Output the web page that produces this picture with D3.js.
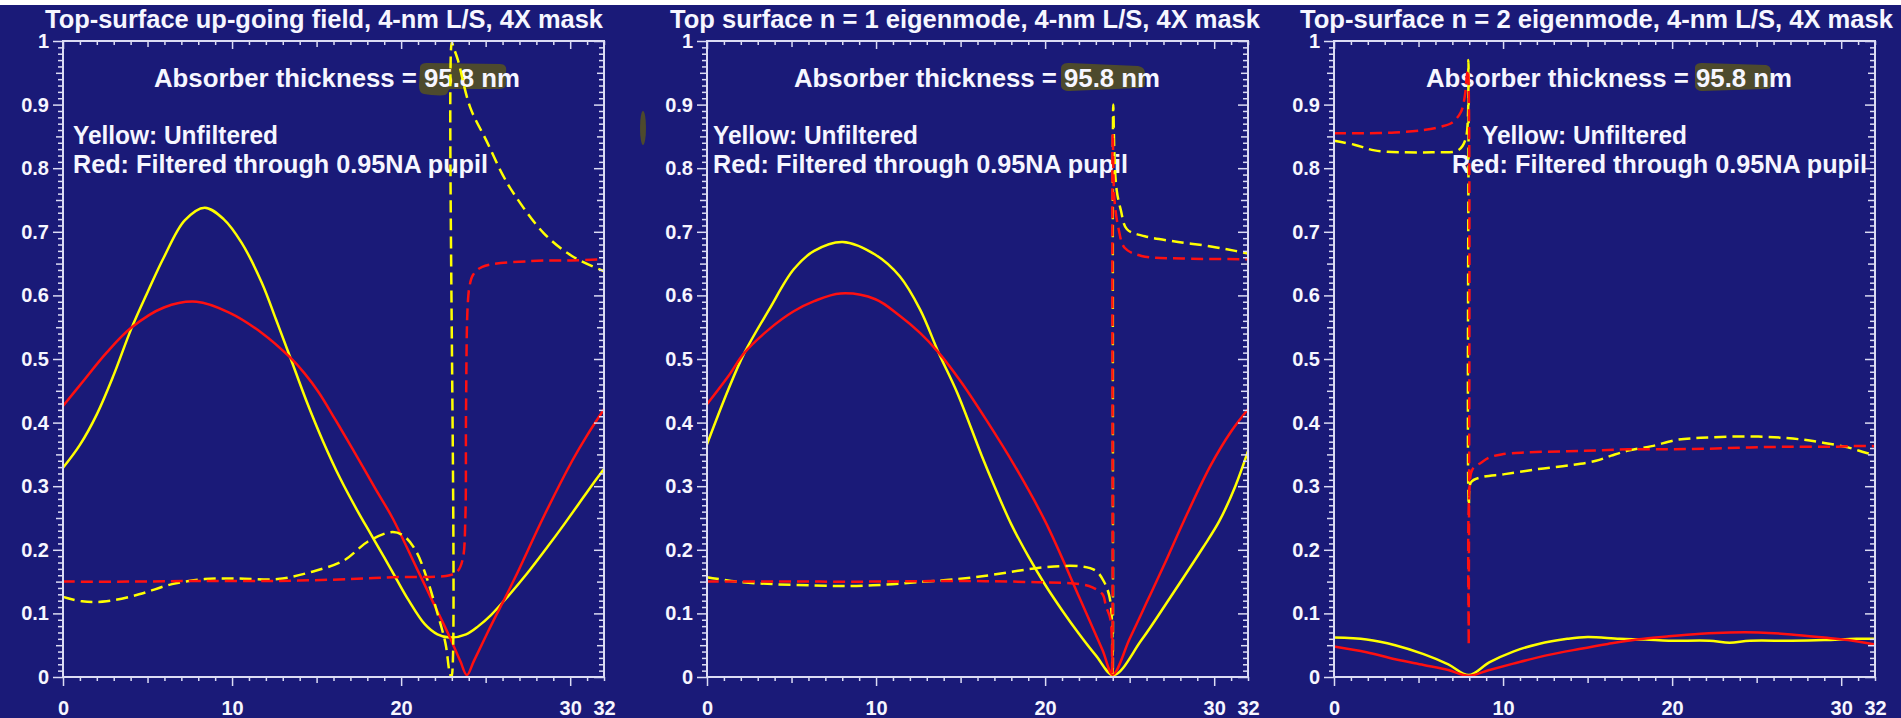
<!DOCTYPE html>
<html>
<head>
<meta charset="utf-8">
<script src="https://cdn.jsdelivr.net/npm/d3@7"></script>
<style>
  html, body { margin: 0; padding: 0; background: #ffffff; }
  svg { display: block; }
  text { font-family: "Liberation Sans", Arial, Helvetica, sans-serif; font-weight: bold; fill: #f6f6ff; }
  .tick text { font-size: 20px; }
</style>
</head>
<body>
<div id="chart"></div>
<script>

// texts
const titles = [
  "Top-surface up-going field, 4-nm L/S, 4X mask",
  "Top surface n = 1 eigenmode, 4-nm L/S, 4X mask",
  "Top-surface n = 2 eigenmode, 4-nm L/S, 4X mask"
];
const annotation = "Absorber thickness = 95.8 nm";
const legendYellow = "Yellow: Unfiltered";
const legendRed = "Red: Filtered through 0.95NA pupil";

// tick labels
const xTickLabels = [0, 10, 20, 30, 32];
const yTickLabels = [0, 0.1, 0.2, 0.3, 0.4, 0.5, 0.6, 0.7, 0.8, 0.9, 1];

// panel 1 : up-going field  ([x, value])
const p1YellowSolid = [[0,0.329],[1.0,0.365],[2.0,0.413],[3.0,0.475],[4.03,0.547],[5.0,0.605],[5.97,0.66],[7.2,0.718],
  [8.38,0.738],[9.5,0.72],[10.56,0.683],[11.76,0.62],[12.6,0.562],[13.45,0.502],[14.4,0.434],[15.39,0.37],[16.4,0.312],
  [17.4,0.262],[18.2,0.225],[19.0,0.188],[19.7,0.155],[20.46,0.12],[21.4,0.083],[22.15,0.067],[22.87,0.062],[23.84,0.067],
  [24.57,0.08],[25.3,0.097],[26.26,0.125],[27.46,0.163],[28.67,0.205],[29.64,0.24],[30.5,0.272],[31.3,0.302],[32,0.327]];
const p1RedSolid = [[0,0.426],[1.13,0.463],[2.58,0.51],[4.03,0.549],[5.97,0.581],[7.9,0.59],[9.83,0.573],[11.76,0.541],
  [13.45,0.502],[14.3,0.477],[15.14,0.447],[16.1,0.405],[17.1,0.36],[18.5,0.295],[19.49,0.25],[20.94,0.17],[21.9,0.117],
  [22.87,0.063],[23.5,0.025],[23.89,0.003],[24.3,0.025],[25.3,0.08],[26.7,0.154],[28.43,0.252],[30.12,0.34],[31.0,0.38],[32,0.421]];
const p1YellowDashed = [[0,0.126],[1.13,0.119],[2.58,0.119],[4.5,0.13],[6.45,0.146],[8.38,0.154],[10.3,0.155],[12.7,0.154],
  [14.66,0.165],[16.6,0.183],[18.04,0.213],[19.5,0.228],[20.2,0.221],[20.9,0.197],[21.5,0.157],[22.15,0.1],[22.63,0.052],
  [22.87,0.007],[22.98,0.0],[23.0,0.998],[23.1,0.99],[23.36,0.97],[24.08,0.896],[25.05,0.843],[26.0,0.79],[26.74,0.757],
  [28.43,0.698],[30.1,0.662],[32,0.638]];
const p1RedDashed = [[0,0.15],[4,0.15],[8,0.151],[12.7,0.151],[17,0.154],[19.5,0.157],[22.87,0.16],[23.36,0.167],
  [23.65,0.186],[23.8,0.25],[23.84,0.42],[23.93,0.58],[24.05,0.615],[24.25,0.632],[24.8,0.645],[27.7,0.654],[30,0.655],[32,0.657]];

// panel 2 : n = 1 eigenmode
const p2YellowSolid = [[0,0.366],[1.26,0.452],[2.22,0.51],[3.68,0.578],[5.13,0.641],[6.34,0.67],[8.03,0.684],[9.96,0.664],
  [11.4,0.63],[12.6,0.578],[13.7,0.51],[14.8,0.447],[16.25,0.348],[17.0,0.3],[18.0,0.24],[19.0,0.19],[20.0,0.145],
  [21.0,0.105],[22.0,0.068],[23.0,0.034],[24.05,0.003],[25.7,0.058],[27.4,0.125],[29.3,0.202],[30.3,0.245],[31.25,0.3],[32,0.355]];
const p2RedSolid = [[0,0.429],[1.26,0.473],[2.22,0.51],[3.68,0.547],[5.13,0.575],[6.34,0.591],[7.9,0.603],[9.96,0.594],
  [11.4,0.568],[12.6,0.541],[13.7,0.51],[15.0,0.465],[16.5,0.405],[18.2,0.332],[20.0,0.245],[22.06,0.123],[23.4,0.042],
  [24.0,0.004],[25.0,0.06],[26.0,0.117],[27.0,0.174],[28.2,0.245],[29.8,0.333],[31.0,0.386],[32,0.421]];
const p2YellowDashed = [[0,0.157],[1.74,0.15],[3.9,0.146],[6.34,0.144],[8.5,0.143],[10.45,0.145],[12.4,0.149],[14.8,0.154],
  [16.7,0.16],[18.4,0.167],[20.1,0.173],[22.06,0.174],[23.0,0.167],[23.5,0.149],[23.8,0.127],[23.95,0.09],[24.0,0.004],
  [24.03,0.9],[24.1,0.82],[24.23,0.766],[24.47,0.735],[24.84,0.704],[25.9,0.693],[27.6,0.685],[29.8,0.677],[31.25,0.67],[32,0.666]];
const p2RedDashed = [[0,0.15],[5,0.15],[10,0.15],[14.8,0.151],[19.6,0.149],[22.06,0.146],[22.8,0.141],[23.4,0.13],
  [23.6,0.111],[23.87,0.09],[23.97,0.004],[24.0,0.855],[24.1,0.751],[24.35,0.704],[24.7,0.675],[25.7,0.662],[28.1,0.658],[32,0.657]];

// panel 3 : n = 2 eigenmode
const p3YellowSolid = [[0,0.062],[1.93,0.059],[3.62,0.05],[5.3,0.036],[6.76,0.02],[7.97,0.003],[9.18,0.023],[10.6,0.04],
  [12.1,0.052],[13.8,0.06],[15.0,0.063],[16.9,0.06],[18.4,0.059],[19.8,0.057],[22.2,0.057],[23.4,0.054],[24.6,0.057],
  [27.05,0.057],[29,0.058],[30.9,0.06],[32,0.06]];
const p3RedSolid = [[0,0.048],[1.93,0.039],[3.62,0.028],[5.3,0.019],[6.76,0.011],[7.97,0.002],[9.18,0.011],[10.6,0.021],
  [12.56,0.034],[14.5,0.044],[16.2,0.052],[17.9,0.059],[19.8,0.064],[21.7,0.068],[23.4,0.07],[25.1,0.07],[27.05,0.067],
  [29,0.062],[30.4,0.058],[32,0.051]];
const p3YellowDashed = [[0,0.843],[1.2,0.837],[2.4,0.828],[4.1,0.825],[5.8,0.825],[7.25,0.827],[7.6,0.835],[7.85,0.854],
  [7.95,0.97],[7.98,0.27],[8.1,0.306],[8.7,0.314],[10.1,0.319],[12.1,0.327],[14.0,0.333],[15.5,0.34],[16.4,0.348],
  [17.4,0.356],[18.8,0.363],[20.3,0.373],[21.7,0.376],[23.4,0.378],[25.1,0.378],[26.6,0.376],[27.8,0.373],[29,0.368],
  [30.4,0.361],[31.4,0.353],[32,0.349]];
const p3RedDashed = [[0,0.855],[1.7,0.855],[3.6,0.856],[5.3,0.86],[6.3,0.865],[7.0,0.872],[7.5,0.888],[7.73,0.912],
  [7.85,0.943],[7.92,0.955],[7.97,0.05],[8.0,0.29],[8.2,0.327],[8.7,0.337],[9.18,0.345],[9.9,0.35],[11.35,0.353],
  [13.8,0.355],[15.5,0.356],[17.4,0.358],[19.8,0.358],[22.2,0.359],[24.6,0.361],[27.05,0.362],[29.5,0.362],[30.4,0.363],[32,0.363]];

// table for the loop
const panels = [
  {yS: p1YellowSolid, rS: p1RedSolid, yD: p1YellowDashed, rD: p1RedDashed},
  {yS: p2YellowSolid, rS: p2RedSolid, yD: p2YellowDashed, rD: p2RedDashed},
  {yS: p3YellowSolid, rS: p3RedSolid, yD: p3YellowDashed, rD: p3RedDashed}
];

// layout
const width = 1901;
const height = 718;
const plotTop = 41, plotBottom = 677, plotW = 541;
const panelLeft = [63, 707, 1334];
const titleX = [45, 670, 1300], titleLen = [558, 590, 593];
const annX = [91, 87, 92];          // relative to panel left
const yellowX = [10, 6, 148];
const redX = [10, 6, 118];
const hlX = [355, 353, 360];
const hlPath = [
  "M2,5 C2,1 5,0 10,0 L82,1 C87,1 89,4 88,9 L88,21 C88,25 85,26 80,26 L32,26 C30,27 30,31 27,32 C22,33 12,32 6,31 C2,30 1,27 1,22 Z",
  "M1,6 C1,1 4,0 10,0 L78,3 C83,4 85,6 85,11 L85,21 C85,25 82,25 78,25 L10,28 C4,28 1,26 1,22 Z",
  "M1,5 C1,1 4,0 9,0 L72,2 C76,3 77,5 77,10 L77,22 C77,26 74,26 70,26 L9,28 C4,28 1,26 1,22 Z"
];
const bg = "#1a1a78", axisColor = "#dcdcf4", hlColor = "#4d4a2d";
const yellow = "#ffff00", red = "#ff1010";

const svg = d3.select("#chart").append("svg")
  .attr("width", width)
  .attr("height", height);

svg.append("rect").attr("width", width).attr("height", height).attr("fill", bg);
svg.append("rect").attr("width", width).attr("height", 5).attr("fill", "#ffffff");

// small smudge left of panel 2
svg.append("ellipse").attr("cx", 643).attr("cy", 128).attr("rx", 3).attr("ry", 17).attr("fill", hlColor);

const yFmt = d => (d === 0 || d === 1) ? String(d) : d.toFixed(1);

function tickSet(g, axis, values, size, transform) {
  g.append("g")
    .attr("transform", transform)
    .call(axis.tickValues(values).tickSize(size).tickSizeOuter(0).tickFormat(""))
    .call(a => a.select(".domain").remove())
    .selectAll("line").attr("stroke", axisColor).attr("stroke-width", 1.5);
}

panels.forEach((p, i) => {
  const left = panelLeft[i];
  const x = d3.scaleLinear().domain([0, 32]).range([left, left + plotW]);
  const y = d3.scaleLinear().domain([0, 1]).range([plotBottom, plotTop]);
  const g = svg.append("g");

  // highlight behind "95.8 nm"
  g.append("path")
    .attr("d", hlPath[i])
    .attr("transform", `translate(${left + hlX[i]},63)`)
    .attr("fill", hlColor);

  // texts
  g.append("text").text(titles[i])
    .attr("x", titleX[i]).attr("y", 28)
    .attr("font-size", 25)
    .attr("textLength", titleLen[i]).attr("lengthAdjust", "spacingAndGlyphs");
  g.append("text").text(annotation)
    .attr("x", left + annX[i]).attr("y", 87)
    .attr("font-size", 25)
    .attr("textLength", 366).attr("lengthAdjust", "spacingAndGlyphs");
  g.append("text").text(legendYellow)
    .attr("x", left + yellowX[i]).attr("y", 144)
    .attr("font-size", 25)
    .attr("textLength", 205).attr("lengthAdjust", "spacingAndGlyphs");
  g.append("text").text(legendRed)
    .attr("x", left + redX[i]).attr("y", 173)
    .attr("font-size", 25)
    .attr("textLength", 415).attr("lengthAdjust", "spacingAndGlyphs");

  // curves
  const line = d3.line()
    .x(d => x(d[0]))
    .y(d => y(d[1]))
    .curve(d3.curveCatmullRom.alpha(0.5));

  g.append("path").datum(p.yS).attr("d", line)
    .attr("fill", "none").attr("stroke", yellow).attr("stroke-width", 2.5);
  g.append("path").datum(p.rS).attr("d", line)
    .attr("fill", "none").attr("stroke", red).attr("stroke-width", 2.5);
  g.append("path").datum(p.yD).attr("d", line)
    .attr("fill", "none").attr("stroke", yellow).attr("stroke-width", 2.5)
    .attr("stroke-dasharray", "12,6");
  g.append("path").datum(p.rD).attr("d", line)
    .attr("fill", "none").attr("stroke", red).attr("stroke-width", 2.5)
    .attr("stroke-dasharray", "12,6");

  // frame
  g.append("rect")
    .attr("x", x(0)).attr("y", y(1))
    .attr("width", x(32) - x(0)).attr("height", y(0) - y(1))
    .attr("fill", "none").attr("stroke", axisColor).attr("stroke-width", 2);

  // ticks
  const xMinor = d3.range(0, 33).filter(k => k % 5 !== 0);
  const xMid = [5, 15, 25];
  const xMaj = [0, 10, 20, 30];
  const yMinor = d3.range(0, 101).filter(k => k % 5 !== 0).map(k => k / 100);
  const yMid = d3.range(5, 100, 10).map(k => k / 100);
  const yMaj = d3.range(0, 11).map(k => k / 10);

  // bottom (outward) and top (inward): both point down
  tickSet(g, d3.axisBottom(x), xMinor, 4, `translate(0,${y(0)})`);
  tickSet(g, d3.axisBottom(x), xMid, 6, `translate(0,${y(0)})`);
  tickSet(g, d3.axisBottom(x), xMaj, 9, `translate(0,${y(0)})`);
  tickSet(g, d3.axisBottom(x), xMinor, 4, `translate(0,${y(1)})`);
  tickSet(g, d3.axisBottom(x), xMid, 6, `translate(0,${y(1)})`);
  tickSet(g, d3.axisBottom(x), xMaj, 8, `translate(0,${y(1)})`);
  // left (outward) and right (inward): both point left
  tickSet(g, d3.axisLeft(y), yMinor, 5, `translate(${x(0)},0)`);
  tickSet(g, d3.axisLeft(y), yMid, 7, `translate(${x(0)},0)`);
  tickSet(g, d3.axisLeft(y), yMaj, 10, `translate(${x(0)},0)`);
  tickSet(g, d3.axisLeft(y), yMinor, 5, `translate(${x(32)},0)`);
  tickSet(g, d3.axisLeft(y), yMid, 7, `translate(${x(32)},0)`);
  tickSet(g, d3.axisLeft(y), yMaj, 10, `translate(${x(32)},0)`);

  // tick labels
  g.append("g")
    .attr("transform", `translate(${x(0)},0)`)
    .call(d3.axisLeft(y).tickValues(yTickLabels).tickSize(0).tickPadding(14).tickFormat(yFmt))
    .call(a => a.select(".domain").remove());
  g.append("g")
    .attr("transform", `translate(0,${y(0)})`)
    .call(d3.axisBottom(x).tickValues(xTickLabels).tickSize(0).tickPadding(24).tickFormat(d3.format("d")))
    .call(a => a.select(".domain").remove());
});

</script>
</body>
</html>
